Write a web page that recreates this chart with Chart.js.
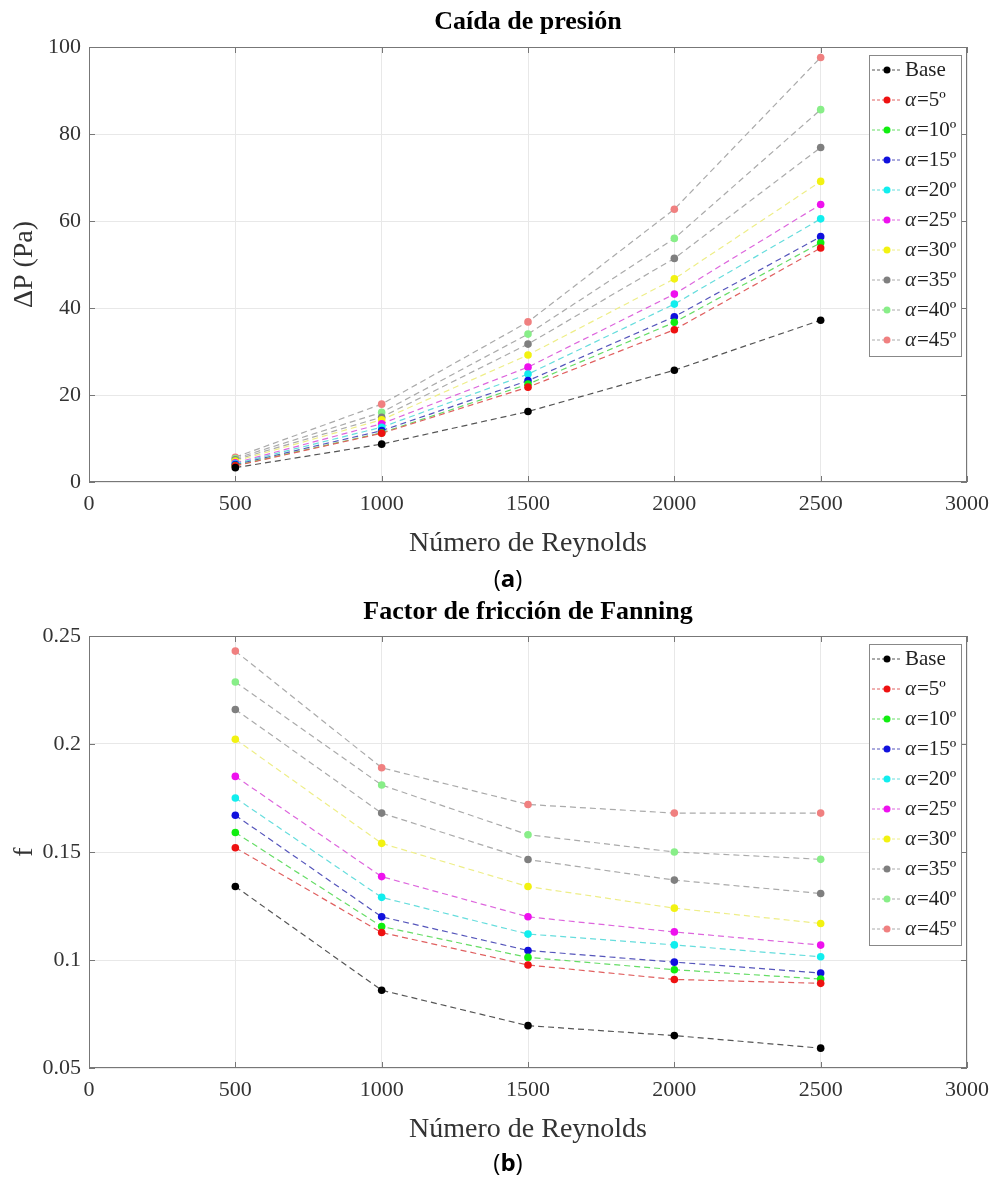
<!DOCTYPE html>
<html><head><meta charset="utf-8">
<script src="https://cdn.jsdelivr.net/npm/chart.js@4.4.1/dist/chart.umd.min.js"></script>
<style>
body{margin:0;background:#fff;width:994px;height:1187px;position:relative;overflow:hidden}
.c{position:absolute;left:0;width:994px}
#w1{top:0;height:560px}
#w2{top:560px;height:586px}
.lab{position:absolute;left:458px;width:100px;text-align:center;font-family:'Open Sans',sans-serif;font-size:24px;line-height:30px;color:#000}
</style></head><body>
<div class="c" id="w1"><canvas id="c1"></canvas></div>
<div class="c" id="w2"><canvas id="c2"></canvas></div>
<div class="lab" style="top:563px">(<b>a</b>)</div>
<div class="lab" style="top:1147px">(<b>b</b>)</div>
<script>
// ---- data ----
const reynolds = [500, 1000, 1500, 2000, 2500];
const xTicks = [0, 500, 1000, 1500, 2000, 2500, 3000];
const dpTicks = [0, 20, 40, 60, 80, 100];
const fTicks = [0.05, 0.1, 0.15, 0.2, 0.25];
const seriesLabels = ['Base', 'α=5º', 'α=10º', 'α=15º', 'α=20º', 'α=25º', 'α=30º', 'α=35º', 'α=40º', 'α=45º'];

const dpBase = [3.3, 8.7, 16.2, 25.7, 37.2];
const dpA5   = [3.7, 11.2, 21.8, 35.0, 53.8];
const dpA10  = [3.8, 11.3, 22.5, 36.7, 55.0];
const dpA15  = [4.0, 11.8, 23.3, 38.0, 56.4];
const dpA20  = [4.2, 12.6, 24.8, 40.9, 60.5];
const dpA25  = [4.4, 13.4, 26.4, 43.2, 63.8];
const dpA30  = [4.8, 14.3, 29.2, 46.7, 69.1];
const dpA35  = [5.1, 14.9, 31.7, 51.4, 76.9];
const dpA40  = [5.4, 16.0, 34.0, 56.0, 85.6];
const dpA45  = [5.7, 17.9, 36.8, 62.7, 97.6];

const fBase = [0.134, 0.086, 0.0696, 0.065, 0.0592];
const fA5   = [0.152, 0.1127, 0.0977, 0.091, 0.0892];
const fA10  = [0.159, 0.1155, 0.1012, 0.0955, 0.0912];
const fA15  = [0.167, 0.120, 0.1044, 0.099, 0.094];
const fA20  = [0.175, 0.129, 0.112, 0.107, 0.1015];
const fA25  = [0.185, 0.1386, 0.120, 0.113, 0.1069];
const fA30  = [0.2022, 0.154, 0.134, 0.124, 0.1169];
const fA35  = [0.216, 0.168, 0.1465, 0.137, 0.1308];
const fA40  = [0.2287, 0.181, 0.158, 0.150, 0.1466];
const fA45  = [0.243, 0.189, 0.172, 0.168, 0.168];

const dpSeries = [dpBase, dpA5, dpA10, dpA15, dpA20, dpA25, dpA30, dpA35, dpA40, dpA45];
const fSeries = [fBase, fA5, fA10, fA15, fA20, fA25, fA30, fA35, fA40, fA45];

// ---- styles ----
const markerColors = ['#000000', '#ee1111', '#11ee11', '#1111dd', '#11eeee', '#ee11ee', '#f2f211', '#7f7f7f', '#88ee88', '#f08080'];
const lineColors = ['#555555', '#e06060', '#66dd66', '#5555bb', '#66dddd', '#dd66dd', '#eeee88', '#aaaaaa', '#aaaaaa', '#aaaaaa'];
const SERIF = "'Liberation Serif', 'Times New Roman', serif";

function makeDatasets(series) {
  return series.map((arr, i) => ({
    label: seriesLabels[i],
    data: reynolds.map((x, j) => ({x: x, y: arr[j]})),
    borderColor: lineColors[i],
    backgroundColor: markerColors[i],
    pointBackgroundColor: markerColors[i],
    pointBorderColor: markerColors[i],
    pointBorderWidth: 0,
    pointRadius: 3.8,
    borderWidth: 1.2,
    borderDash: [6, 4],
    tension: 0,
    fill: false
  }));
}

const framePlugin = {
  id: 'frame',
  afterDatasetsDraw(chart) {
    const {ctx, chartArea: a, scales} = chart;
    ctx.save();
    ctx.strokeStyle = '#777';
    ctx.lineWidth = 1;
    ctx.strokeRect(Math.round(a.left) + 0.5, Math.round(a.top) + 0.5, Math.round(a.width) - 1, Math.round(a.height) - 1);
    const L = 6;
    scales.x.ticks.forEach(t => {
      const px = Math.round(scales.x.getPixelForValue(t.value)) + 0.5;
      ctx.beginPath();
      ctx.moveTo(px, a.top); ctx.lineTo(px, a.top + L);
      ctx.moveTo(px, a.bottom); ctx.lineTo(px, a.bottom - L);
      ctx.stroke();
    });
    scales.y.ticks.forEach(t => {
      const py = Math.round(scales.y.getPixelForValue(t.value)) + 0.5;
      ctx.beginPath();
      ctx.moveTo(a.left, py); ctx.lineTo(a.left + L, py);
      ctx.moveTo(a.right, py); ctx.lineTo(a.right - L, py);
      ctx.stroke();
    });
    ctx.restore();
  },
  afterDraw(chart, args, opts) {
    const {ctx, chartArea: a} = chart;
    ctx.save();
    // title
    ctx.fillStyle = '#000';
    ctx.font = "bold 26px " + SERIF;
    ctx.textAlign = 'center';
    ctx.textBaseline = 'middle';
    ctx.fillText(opts.title, (a.left + a.right) / 2, opts.titleY);
    // legend
    const bx = 869, bw = 92, by = a.top + 8, rowH = 30, bh = 301;
    ctx.fillStyle = '#fff';
    ctx.fillRect(bx, by, bw, bh);
    ctx.strokeStyle = '#888';
    ctx.lineWidth = 1;
    ctx.strokeRect(bx + 0.5, by + 0.5, bw, bh);
    chart.data.datasets.forEach((ds, i) => {
      const y = by + 15 + i * rowH;
      ctx.strokeStyle = ds.borderColor;
      ctx.setLineDash([3, 2]);
      ctx.beginPath();
      ctx.moveTo(bx + 3, y); ctx.lineTo(bx + 32, y);
      ctx.stroke();
      ctx.setLineDash([]);
      ctx.fillStyle = ds.pointBackgroundColor;
      ctx.beginPath();
      ctx.arc(bx + 18, y, 3.5, 0, Math.PI * 2);
      ctx.fill();
      ctx.fillStyle = '#222';
      ctx.textAlign = 'left';
      ctx.textBaseline = 'middle';
      let tx = bx + 36;
      let label = ds.label;
      if (label.startsWith('α')) {
        ctx.font = "italic 21px " + SERIF;
        ctx.fillText('α', tx, y);
        tx += ctx.measureText('α').width + 1;
        label = label.slice(1);
      }
      ctx.font = "21px " + SERIF;
      ctx.fillText(label, tx, y);
    });
    ctx.restore();
  }
};

function makeChart(id, series, yMin, yMax, yTitle, padTop, title, titleY, fmt) {
  return new Chart(document.getElementById(id), {
    type: 'line',
    data: {datasets: makeDatasets(series)},
    plugins: [framePlugin],
    options: {
      responsive: true,
      maintainAspectRatio: false,
      animation: false,
      layout: {padding: {top: padTop, right: 27, left: 0, bottom: 0}},
      plugins: {
        legend: {display: false},
        tooltip: {enabled: false},
        title: {display: false},
        frame: {title: title, titleY: titleY}
      },
      scales: {
        x: {
          type: 'linear', min: 0, max: 3000,
          afterBuildTicks: s => { s.ticks = xTicks.map(v => ({value: v})); },
          afterFit: s => { s.height = 78; s.paddingLeft = 0; s.paddingRight = 0; },
          grid: {color: '#e8e8e8', drawTicks: false},
          border: {display: false},
          ticks: {padding: 9, color: '#333', font: {family: SERIF, size: 22}, callback: v => String(v)},
          title: {display: true, text: 'Número de Reynolds', color: '#333', padding: {top: 6, bottom: 0}, font: {family: SERIF, size: 28}}
        },
        y: {
          type: 'linear', min: yMin, max: yMax,
          afterBuildTicks: s => { s.ticks = (yMin === 0 ? dpTicks : fTicks).map(v => ({value: v})); },
          afterFit: s => { s.width = 89; s.paddingTop = 0; s.paddingBottom = 0; },
          grid: {color: '#e8e8e8', drawTicks: false},
          border: {display: false},
          ticks: {padding: 8, color: '#333', font: {family: SERIF, size: 22}, callback: fmt},
          title: {display: true, text: yTitle, color: '#333', padding: {top: 8, bottom: 4}, font: {family: SERIF, size: 28}}
        }
      }
    }
  });
}

makeChart('c1', dpSeries, 0, 100, 'ΔP (Pa)', 47, 'Caída de presión', 22, v => String(v));
makeChart('c2', fSeries, 0.05, 0.25, 'f', 76, 'Factor de fricción de Fanning', 52, v => String(Number(v.toFixed(2))));
</script>
</body></html>
